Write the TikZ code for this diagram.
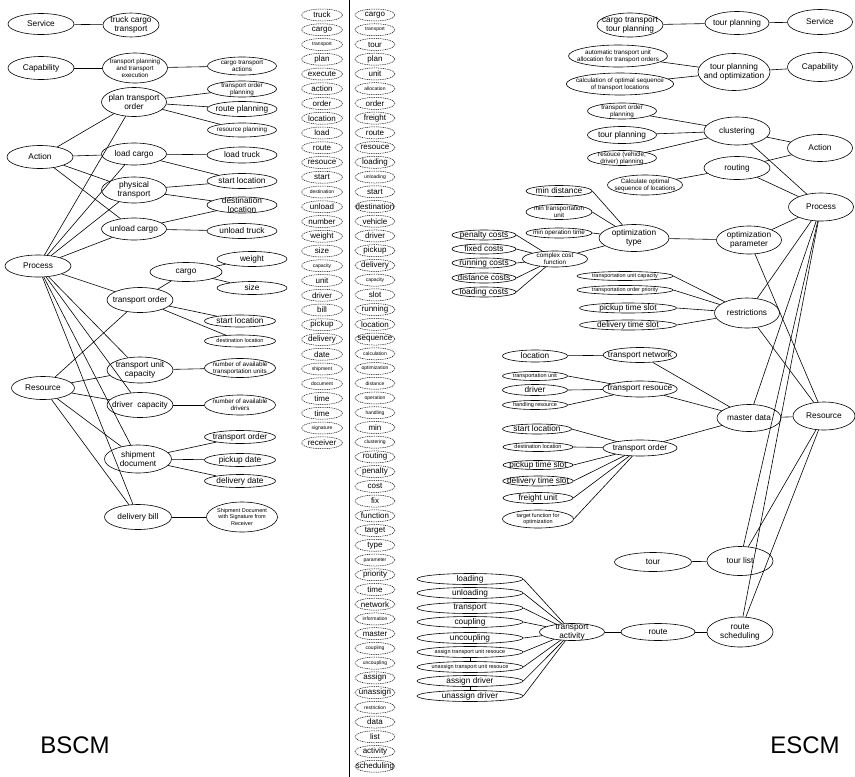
\documentclass[tikz,border=0pt]{standalone}
\usepackage{fontspec}
\setmainfont{Liberation Sans}
\usetikzlibrary{shapes.geometric}
\tikzset{
 el/.style 2 args={ellipse, draw, line width=0.6pt, minimum width=#1pt, minimum height=#2pt, inner xsep=-6pt, inner ysep=-3pt, align=center},
 dl/.style={ellipse, draw, dashed, dash pattern=on 1pt off 0.8pt, line width=0.5pt, minimum height=12pt, inner xsep=-6pt, inner ysep=-3pt},
 fa/.style={font=\fontsize{8.3}{9.5}\selectfont},
 fc/.style={font=\fontsize{6.3}{7}\selectfont},
 fd/.style={font=\fontsize{5.5}{6.2}\selectfont},
 big/.style={font=\fontsize{24}{26}\selectfont},
 ln/.style={line width=0.6pt},
}
\begin{document}
\begin{tikzpicture}[x=1pt,y=-1pt]
\useasboundingbox (0,0) rectangle (855,777);
% divider
\coordinate (divT) at (349,0);
\coordinate (divB) at (349,777);
\draw[line width=0.7pt] (divT) -- (divB);
% ---------------- left (BSCM)
\node[el={66}{21},fa] (Lsvc) at (41,24) {Service};
\node[el={56}{24},fa] (Ltct) at (131,25) {truck cargo\\transport};
\node[el={66}{23},fa] (Lcap) at (41,68) {Capability};
\node[el={65}{30},fc] (Ltpte) at (135,68) {transport planning\\and transport\\execution};
\node[el={69}{18},fc] (Lcta) at (242,66) {cargo transport\\actions};
\node[el={65}{29},fa] (Lpto) at (134,102) {plan transport\\order};
\node[el={69}{16},fc] (Ltop) at (242,89) {transport order\\planning};
\node[el={70}{15},fa] (Lrp) at (242,109) {route planning};
\node[el={69}{14},fc] (Lresp) at (242,130) {resource planning};
\node[el={66}{23},fa] (Lact) at (40,157) {Action};
\node[el={65}{22},fa] (Llc) at (134,154) {load cargo};
\node[el={70}{16},fa] (Llt) at (242,155) {load truck};
\node[el={65}{26},fa] (Lpt) at (134,190) {physical\\transport};
\node[el={70}{15},fa] (Lsl) at (242,181) {start location};
\node[el={70}{16},fa] (Ldl) at (242,205) {destination\\location};
\node[el={65}{22},fa] (Luc) at (134,229) {unload cargo};
\node[el={70}{15},fa] (Lut) at (242,231) {unload truck};
\node[el={66}{22},fa] (Lproc) at (38,266) {Process};
\node[el={72}{19},fa] (Lcargo) at (186,272) {cargo};
\node[el={70}{15},fa] (Lweight) at (252,259) {weight};
\node[el={70}{13},fa] (Lsize) at (252,288) {size};
\node[el={66}{25},fa] (Lto) at (140,300) {transport order};
\node[el={71}{12},fa] (Lsl2) at (240,321) {start location};
\node[el={71}{12},fd] (Ldl2) at (240,341) {destination location};
\node[el={66}{26},fa] (Ltuc) at (140,370) {transport unit\\capacity};
\node[el={71}{19},fc] (Lnatu) at (240,368) {number of available\\transportation units};
\node[el={63}{23},fa] (Lres) at (43,388) {Resource};
\node[el={66}{25},fa] (Ldc) at (140,405) {driver\ \ capacity};
\node[el={71}{20},fc] (Lnad) at (240,405) {number of available\\drivers};
\node[el={67}{28},fa] (Lsd) at (138,459) {shipment\\document};
\node[el={71}{13},fa] (Lto2) at (240,437) {transport order};
\node[el={71}{13},fa] (Lpd) at (240,460) {pickup date};
\node[el={71}{13},fa] (Ldd) at (240,481) {delivery date};
\node[el={67}{25},fa] (Ldb) at (138,517) {delivery bill};
\node[el={71}{30},fd] (Lsig) at (242,517) {Shipment Document\\with Signature from\\Receiver};
\foreach \a/\b in {Lsvc/Ltct, Lcap/Ltpte, Ltpte/Lcta, Lpto/Ltop, Lpto/Lrp, Lpto/Lresp,
  Lact/Lpto, Lact/Llc, Lact/Lpt, Lact/Luc, Lproc/Lpto, Lproc/Llc, Lproc/Lpt, Lproc/Luc,
  Lproc/Lto, Lproc/Ltuc, Lproc/Ldc, Lproc/Lsd, Lproc/Ldb, Lres/Lto, Lres/Ltuc, Lres/Ldc,
  Lres/Lsd, Lres/Ldb, Llc/Llt, Llc/Lsl, Lpt/Lsl, Lpt/Ldl, Luc/Ldl, Luc/Lut,
  Lcargo/Lweight, Lcargo/Lsize, Lto/Lcargo, Lto/Lsl2, Lto/Ldl2, Ltuc/Lnatu, Ldc/Lnad,
  Lsd/Lto2, Lsd/Lpd, Lsd/Ldd, Ldb/Lsig}
  \draw[ln] (\a) -- (\b);
\node[big] (bscm) at (75,745) {BSCM};
% ---------------- word columns
\foreach \t/\s [count=\i from 0] in {truck/8,cargo/8,transport/5,plan/8,execute/8,action/8,order/8,location/8,load/8,route/8,resouce/8,start/8,destination/5,unload/8,number/8,weight/8,size/8,capacity/5,unit/8,driver/8,bill/8,pickup/8,delivery/8,date/8,shipment/5,document/5,time/8,time/8,signature/5,receiver/8}
  \node[dl, minimum width=41pt, font=\fontsize{\s}{\s}\selectfont] (ca\i) at (322,15+\i*14.75) {\t};
\foreach \t/\s [count=\i from 0] in {cargo/8,transport/5,tour/8,plan/8,unit/8,allocation/5,order/8,freight/8,route/8,resouce/8,loading/8,unloading/5,start/8,destination/8,vehicle/8,driver/8,pickup/8,delivery/8,capacity/5,slot/8,running/8,location/8,sequence/8,calculation/5,optimization/5,distance/5,operation/5,handling/5,min/8,clustering/5,routing/8,penalty/8,cost/8,fix/8,function/8,target/8,type/8,parameter/5,priority/8,time/8,network/8,information/5,master/8,coupling/5,uncoupling/5,assign/8,unassign/8,restriction/5,data/8,list/8,activity/8,scheduling/8}
  \node[dl, minimum width=40pt, font=\fontsize{\s}{\s}\selectfont] (cb\i) at (375,15+\i*14.73) {\t};
% ---------------- right (ESCM)
\node[el={66}{24},fa] (Rctp) at (630,25) {cargo transport\\tour planning};
\node[el={64}{23},fa] (Rtp) at (737,23) {tour planning};
\node[el={65}{25},fa] (Rsvc) at (820,22) {Service};
\node[el={99}{22},fc] (Rauto) at (618,56) {automatic transport unit\\allocation for transport orders};
\node[el={98}{22},fc] (Rcalc) at (620,84) {calculation of optimal sequence\\of transport locations};
\node[el={72}{37},fa] (Rtpo) at (734,72) {tour planning\\and optimization};
\node[el={65}{29},fa] (Rcap) at (820,67) {Capability};
\node[el={69}{16},fc] (Rtop) at (622,111) {transport order\\planning};
\node[el={69}{17},fa] (Rtp2) at (622,135) {tour planning};
\node[el={69}{15},fc] (Rrvd) at (622,158) {resouce (vehicle,\\driver) planning};
\node[el={66}{28},fa] (Rclu) at (737,131) {clustering};
\node[el={65}{27},fa] (Ract) at (820,148) {Action};
\node[el={66}{23},fa] (Rrout) at (737,168) {routing};
\node[el={75}{20},fc] (Rcos) at (645,185) {Calculate optimal\\sequence of locations};
\node[el={66}{11},fa] (Rmd) at (559,191) {min distance};
\node[el={66}{15},fc] (Rmtu) at (559,212) {min transportation\\unit};
\node[el={66}{10},fc] (Rmot) at (559,233) {min operation time};
\node[el={70}{27},fa] (Rot) at (634,238) {optimization\\type};
\node[el={65}{28},fa] (Rop) at (749,240) {optimization\\parameter};
\node[el={65}{28},fa] (Rproc) at (821,207) {Process};
\node[el={64}{10},fa] (Rpen) at (484,235) {penalty costs};
\node[el={64}{10},fa] (Rfix) at (484,249) {fixed costs};
\node[el={64}{10},fa] (Rrun) at (484,263) {running costs};
\node[el={64}{10},fa] (Rdist) at (484,278) {distance costs};
\node[el={64}{10},fa] (Rload) at (484,292) {loading costs};
\node[el={65}{16},fc] (Rccf) at (555,259) {complex cost\\function};
\node[el={96}{9},fd] (Rtuc) at (625,276) {transportation unit capacity};
\node[el={96}{9},fd] (Rtop2) at (625,290) {transportation order priority};
\node[el={97}{10},fa] (Rpts) at (628,308) {pickup time slot};
\node[el={97}{10},fa] (Rdts) at (628,325) {delivery time slot};
\node[el={65}{30},fa] (Rrestr) at (747,313) {restrictions};
\node[el={65}{12},fa] (Rloc) at (535,356) {location};
\node[el={73}{15},fa] (Rtn) at (640,355) {transport network};
\node[el={65}{9},fd] (Rtu) at (535,376) {transportation unit};
\node[el={65}{11},fa] (Rdrv) at (535,390) {driver};
\node[el={65}{9},fd] (Rhr) at (535,405) {handling resource};
\node[el={74}{16},fa] (Rtr) at (640,389) {transport resouce};
\node[el={64}{27},fa] (Rmdata) at (749,418) {master data};
\node[el={62}{28},fa] (Rres) at (824,416) {Resource};
\node[el={69}{10},fa] (Rsl) at (537,429) {start location};
\node[el={70}{9},fd] (Rdl) at (538,447) {destination location};
\node[el={74}{16},fa] (Rto) at (640,448) {transport order};
\node[el={70}{9},fa] (Rpts2) at (538,465) {pickup time slot};
\node[el={70}{10},fa] (Rdts2) at (538,481) {delivery time slot};
\node[el={70}{11},fa] (Rfu) at (538,498) {freight unit};
\node[el={71}{18},fd] (Rtf) at (538,519) {target function for\\optimization};
\node[el={77}{19},fa] (Rtour) at (653,562) {tour};
\node[el={66}{29},fa] (Rtl) at (740,561) {tour list};
\node[el={106}{11},fa] (Ra1) at (470,579) {loading};
\node[el={106}{11},fa] (Ra2) at (470,593) {unloading};
\node[el={106}{11},fa] (Ra3) at (470,608) {transport};
\node[el={106}{11},fa] (Ra4) at (470,622) {coupling};
\node[el={106}{11},fa] (Ra5) at (470,638) {uncoupling};
\node[el={106}{11},fd] (Ra6) at (470,652) {assign transport unit resouce};
\node[el={106}{11},fd] (Ra7) at (470,667) {unassign transport unit resouce};
\node[el={106}{11},fa] (Ra8) at (470,681) {assign driver};
\node[el={106}{11},fa] (Ra9) at (470,696) {unassign driver};
\node[el={65}{17},fa] (Rta) at (572,632) {transport\\activity};
\node[el={74}{17},fa] (Rroute) at (658,632) {route};
\node[el={66}{30},fa] (Rrs) at (740,632) {route\\scheduling};
\foreach \a/\b in {Rctp/Rtp, Rtp/Rsvc, Rauto/Rtpo, Rcalc/Rtpo, Rtpo/Rcap, Rtop/Rclu, Rtp2/Rclu,
  Rrvd/Rclu, Rclu/Ract, Rclu/Rproc, Rrout/Ract, Rrout/Rproc, Rcos/Rrout, Rccf/Rot, Rot/Rop,
  Rop/Rproc, Rop/Rres, Rrestr/Rproc,
  Rrestr/Rres, Rloc/Rtn, Rtn/Rmdata, Rtr/Rmdata, Rto/Rmdata, Rmdata/Rres, Rmdata/Rproc, Rtour/Rtl,
  Rtl/Rproc, Rtl/Rres, Rta/Rroute, Rroute/Rrs, Rrs/Rproc, Rrs/Rres, Ra6/Ra7, Ra8/Ra9}
  \draw[ln] (\a) -- (\b);
\foreach \a/\b in {Rmd/Rot, Rmtu/Rot, Rmot/Rot, Rpen/Rccf, Rfix/Rccf, Rrun/Rccf, Rdist/Rccf,
  Rload/Rccf, Rtuc/Rrestr, Rtop2/Rrestr, Rpts/Rrestr, Rdts/Rrestr, Rtu/Rtr, Rdrv/Rtr, Rhr/Rtr,
  Rsl/Rto, Rdl/Rto, Rpts2/Rto, Rdts2/Rto, Rfu/Rto, Rtf/Rto,
  Ra1/Rta, Ra2/Rta, Ra3/Rta, Ra4/Rta, Ra5/Rta, Ra6/Rta, Ra7/Rta, Ra8/Rta, Ra9/Rta}
  \draw[ln] (\a.east) -- (\b);
\node[big] (escm) at (805,745) {ESCM};
\end{tikzpicture}
\end{document}
